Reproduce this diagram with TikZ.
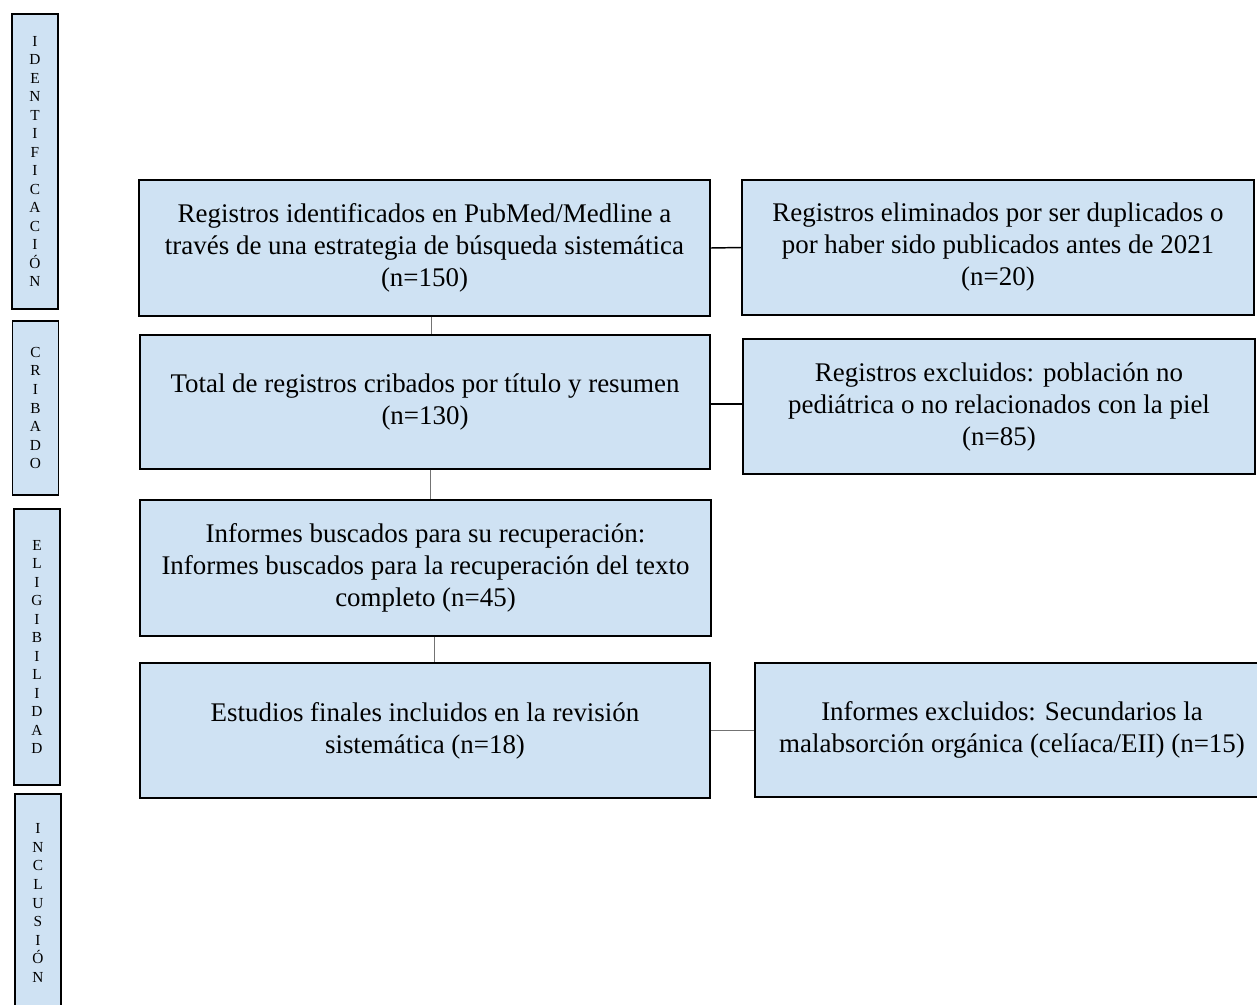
\documentclass[tikz,border=0pt]{standalone}
\usepackage{fontspec}
\setmainfont{Liberation Serif}
\usetikzlibrary{positioning}
\definecolor{boxblue}{RGB}{207,226,243}

\begin{document}
\begin{tikzpicture}[x=0.75pt, y=-0.75pt]
  \tikzset{
      mybox/.style={rectangle, draw=black, fill=boxblue, line width=1.1pt, inner sep=0pt, align=center, font=\fontsize{20.2}{24}\selectfont},
      sidebox/.style={rectangle, draw=black, fill=boxblue, line width=1.1pt, inner sep=0pt, minimum width=46*0.75pt, align=center, font=\fontsize{11.5}{13.9}\selectfont},
      myline/.style={black, line width=1.1pt},
      thinline/.style={black!55, line width=0.6pt}
  }
  \useasboundingbox (0,0) rectangle (1257,1004);

  % phase labels on the left
  \node[sidebox, minimum height=295*0.75pt] (ident) at (35,161.5) {I\\D\\E\\N\\T\\I\\F\\I\\C\\A\\C\\I\\Ó\\N};
  \node[sidebox, minimum height=174*0.75pt] (crib) at (35.5,408) {C\\R\\I\\B\\A\\D\\O};
  \node[sidebox, minimum height=276*0.75pt] (elig) at (37,647) {E\\L\\I\\G\\I\\B\\I\\L\\I\\D\\A\\D};
  \node[sidebox, minimum height=218*0.75pt] (incl) at (38,903) {I\\N\\C\\L\\U\\S\\I\\Ó\\N};

  % main column
  \node[mybox, minimum width=571*0.75pt, minimum height=136*0.75pt] (reg) at (424.5,248) {Registros identificados en PubMed/Medline a\\través de una estrategia de búsqueda sistemática\\(n=150)};
  \node[mybox, minimum width=570*0.75pt, minimum height=134*0.75pt] (total) at (425,402) {Total de registros cribados por título y resumen\\(n=130)};
  \node[mybox, minimum width=571*0.75pt, minimum height=136*0.75pt] (informes) at (425.5,568) {Informes buscados para su recuperación:\\Informes buscados para la recuperación del texto\\completo (n=45)};
  \node[mybox, minimum width=570*0.75pt, minimum height=135*0.75pt] (final) at (425,730.5) {Estudios finales incluidos en la revisión\\sistemática (n=18)};

  % exclusions on the right
  \node[mybox, minimum width=512*0.75pt, minimum height=135*0.75pt] (dup) at (998,247.5) {Registros eliminados por ser duplicados o\\por haber sido publicados antes de 2021\\(n=20)};
  \node[mybox, minimum width=512*0.75pt, minimum height=135*0.75pt] (excl) at (999,406.5) {Registros excluidos: población no\\pediátrica o no relacionados con la piel\\(n=85)};
  \node[mybox, minimum width=514*0.75pt, minimum height=134*0.75pt] (excl2) at (1012,730) {Informes excluidos: Secundarios la\\malabsorción orgánica (celíaca/EII) (n=15)};

  \coordinate (v1) at ([xshift=5.5pt]reg.south);
  \coordinate (v2) at ([xshift=3.75pt]total.south);
  \coordinate (v3) at ([xshift=6.4pt]informes.south);
  \draw[thinline] (v1) -- (v1 |- total.north);
  \draw[thinline] (v2) -- (v2 |- informes.north);
  \draw[thinline] (v3) -- (v3 |- final.north);
  \draw[myline] (reg.east) -- (dup.west);
  \draw[myline] ([yshift=-1.5pt]total.east) -- ([yshift=-1.5pt]total.east -| excl.west);
  \draw[thinline] (final.east) -- (final.east -| excl2.west);
\end{tikzpicture}
\end{document}
